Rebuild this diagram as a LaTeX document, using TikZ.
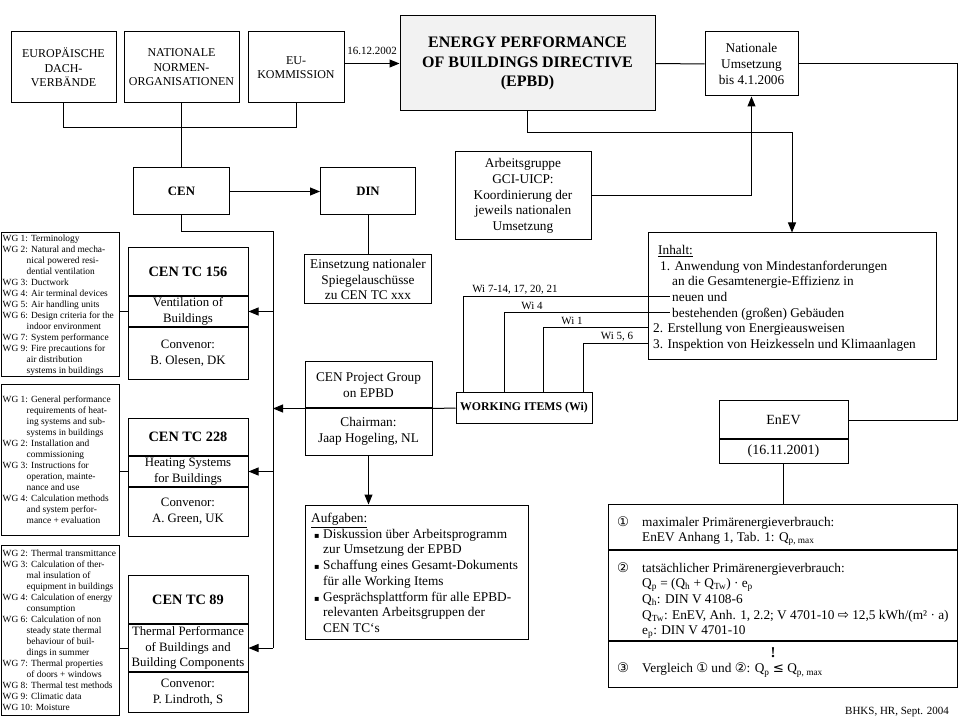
\documentclass[tikz,border=0pt]{standalone}
\usepackage{fontspec}
\setmainfont{Liberation Serif}
\newfontfamily\symfont{DejaVu Sans}
\usetikzlibrary{arrows.meta}
\definecolor{epbdfill}{RGB}{242,242,242}
\newcommand\myfn{\fontsize{12.8pt}{15.7pt}\selectfont}
\newcommand\myfnb{\fontsize{13.3pt}{15.7pt}\selectfont}
\newcommand\mycap{\fontsize{12pt}{14.5pt}\selectfont}
\newcommand\mywg{\fontsize{9.4pt}{11pt}\selectfont}
\newcommand\mylbl{\fontsize{11pt}{13pt}\selectfont}
\newcommand\myepbd{\fontsize{16pt}{19.5pt}\selectfont\bfseries}
\newcommand\mybold{\fontsize{12.8pt}{15pt}\selectfont\bfseries}
\newcommand\mytc{\fontsize{14.3pt}{16pt}\selectfont\bfseries}
\newcommand\mywi{\fontsize{11.8pt}{14pt}\selectfont\bfseries}
\newcommand\myenev{\fontsize{14pt}{16pt}\selectfont}
\newcommand\wgind{\hspace*{24pt}}
\newcommand\cd[1]{{\symfont #1}}
\newcommand\bul{\hspace*{3pt}\makebox[9pt][l]{\symfont\fontsize{8pt}{8pt}\selectfont ▪}}
\newcommand\bcont{\hspace*{12pt}}
\newcommand\sind{\hspace*{25pt}}
\begin{document}
\begin{tikzpicture}[x=1pt,y=-1pt,
  mybox/.style={draw, line width=1pt, inner sep=1pt, align=center, font=\myfnb},
  boxframe/.style={draw, line width=1pt, inner sep=0pt},
  txt/.style={inner sep=0pt, align=center, font=\myfn},
  ltxt/.style={inner sep=0pt, align=left, font=\myfnb},
  wgtxt/.style={inner sep=0pt, align=left, font=\mywg, anchor=west},
  lbl/.style={inner sep=0pt, font=\mylbl},
  ln/.style={line width=1pt},
  arr/.style={line width=1pt, -{Triangle[length=10pt,width=8pt]}},
  divider/.style={line width=2pt}]
\useasboundingbox (0,0) rectangle (959,719);

% top row
\node[mybox, font=\mycap, minimum width=105pt, minimum height=71pt] (europ) at (63.5,67.5) {EUROPÄISCHE\\DACH-\\VERBÄNDE};
\node[mybox, font=\mycap, minimum width=115pt, minimum height=71pt] (natnorm) at (181.5,67.5) {NATIONALE\\NORMEN-\\ORGANISATIONEN};
\node[mybox, font=\mycap, minimum width=96pt, minimum height=71pt] (eukom) at (296,67.5) {EU-\\KOMMISSION};
\node[mybox, font=\myepbd, fill=epbdfill, minimum width=255pt, minimum height=95pt] (epbd) at (527.5,63.5) {ENERGY PERFORMANCE\\OF BUILDINGS DIRECTIVE\\(EPBD)};
\node[mybox, minimum width=93pt, minimum height=64pt] (natums) at (751.5,64) {Nationale\\Umsetzung\\bis 4.1.2006};
\node[lbl] (datum) at (372,51) {16.12.2002};

% CEN / DIN
\node[mybox, font=\mybold, minimum width=96pt, minimum height=47pt] (cen) at (181.5,191.5) {CEN};
\node[mybox, font=\mybold, minimum width=95pt, minimum height=47pt] (din) at (368,191.5) {DIN};
\node[mybox, minimum width=136pt, minimum height=88pt] (arb) at (523,196) {Arbeitsgruppe\\GCI-UICP:\\Koordinierung der\\jeweils nationalen\\Umsetzung};
\node[mybox, minimum width=127pt, minimum height=49pt] (einsetz) at (368,279.5) {Einsetzung nationaler\\Spiegelauschüsse\\zu CEN TC xxx};

% Inhalt
\node[boxframe, minimum width=288pt, minimum height=127pt] (inhalt) at (792,296.5) {};
\node[ltxt, anchor=north west] (inhalttxt) at (650,245) {\hspace*{8pt}\underline{Inhalt:}\\ \hspace*{10pt}1. Anwendung von Mindestanforderungen\\ \hspace*{22pt}an die Gesamtenergie-Effizienz in\\ \hspace*{22pt}neuen und\\ \hspace*{22pt}bestehenden (großen) Gebäuden\\ \hspace*{3pt}2. Erstellung von Energieausweisen\\ \hspace*{3pt}3. Inspektion von Heizkesseln und Klimaanlagen};

% Working items
\node[mybox, font=\mywi, minimum width=136pt, minimum height=30pt] (wi) at (524,408) {WORKING ITEMS (Wi)};
\coordinate (w1) at (670,297);
\coordinate (w2) at (670,313);
\coordinate (w3) at (648,328);
\coordinate (w4) at (648,344);
\node[lbl] (l1) at (515,290) {Wi 7-14, 17, 20, 21};
\node[lbl] (l2) at (532,305.5) {Wi 4};
\node[lbl] (l3) at (572,321) {Wi 1};
\node[lbl] (l4) at (617,337) {Wi 5, 6};

% CEN project group
\node[boxframe, minimum width=127pt, minimum height=93pt] (cenpg) at (368.5,408.5) {};
\draw[divider] (305,408) -- (432,408);
\node[txt, font=\myfnb] (cenpga) at (368.5,385) {CEN Project Group\\on EPBD};
\node[txt, font=\myfnb] (cenpgb) at (368.5,431.5) {Chairman:\\Jaap Hogeling, NL};

% Aufgaben
\node[boxframe, minimum width=223pt, minimum height=134pt] (aufg) at (416.5,572) {};
\node[ltxt, anchor=north west] (aufgt) at (311,513) {\underline{Aufgaben:}\\ \bul Diskussion über Arbeitsprogramm\\ \bcont zur Umsetzung der EPBD\\ \bul Schaffung eines Gesamt-Dokuments\\ \bcont für alle Working Items\\ \bul Gesprächsplattform für alle EPBD-\\ \bcont relevanten Arbeitsgruppen der\\ \bcont CEN TC‘s};

% TC 156
\node[boxframe, minimum width=120pt, minimum height=132pt] (tc156) at (188,314) {};
\draw[divider] (128,296) -- (248,296);
\draw[divider] (128,327) -- (248,327);
\node[txt, font=\mytc] (tc156a) at (188,272) {CEN TC 156};
\node[txt] (tc156b) at (188,311.5) {Ventilation of\\Buildings};
\node[txt] (tc156c) at (188,353.5) {Convenor:\\B. Olesen, DK};

% TC 228
\node[boxframe, minimum width=120pt, minimum height=118pt] (tc228) at (188,477) {};
\draw[divider] (128,456) -- (248,456);
\draw[divider] (128,487) -- (248,487);
\node[txt, font=\mytc] (tc228a) at (188,437) {CEN TC 228};
\node[txt] (tc228b) at (188,471.5) {Heating Systems\\for Buildings};
\node[txt] (tc228c) at (188,511.5) {Convenor:\\A. Green, UK};

% TC 89
\node[boxframe, minimum width=120pt, minimum height=137pt] (tc89) at (188,643.5) {};
\draw[divider] (128,624) -- (248,624);
\draw[divider] (128,672) -- (248,672);
\node[txt, font=\mytc] (tc89a) at (188,599.5) {CEN TC 89};
\node[txt] (tc89b) at (188,648) {Thermal Performance\\of Buildings and\\Building Components};
\node[txt] (tc89c) at (188,692) {Convenor:\\P. Lindroth, S};

% WG boxes
\node[boxframe, minimum width=118pt, minimum height=144pt] (wg1) at (60,305) {};
\node[wgtxt] (wg1t) at ([xshift=2pt]wg1.west) {WG 1: Terminology\\
WG 2: Natural and mecha-\\
\wgind nical powered resi-\\
\wgind dential ventilation\\
WG 3: Ductwork\\
WG 4: Air terminal devices\\
WG 5: Air handling units\\
WG 6: Design criteria for the\\
\wgind indoor environment\\
WG 7: System performance\\
WG 9: Fire precautions for\\
\wgind air distribution\\
\wgind systems in buildings};

\node[boxframe, minimum width=118pt, minimum height=150pt] (wg2) at (60,460) {};
\node[wgtxt] (wg2t) at ([xshift=2pt]wg2.west) {WG 1: General performance\\
\wgind requirements of heat-\\
\wgind ing systems and sub-\\
\wgind systems in buildings\\
WG 2: Installation and\\
\wgind commissioning\\
WG 3: Instructions for\\
\wgind operation, mainte-\\
\wgind nance and use\\
WG 4: Calculation methods\\
\wgind and system perfor-\\
\wgind mance + evaluation};

\node[boxframe, minimum width=118pt, minimum height=170pt] (wg3) at (60,630) {};
\node[wgtxt] (wg3t) at ([xshift=2pt]wg3.west) {WG 2: Thermal transmittance\\
WG 3: Calculation of ther-\\
\wgind mal insulation of\\
\wgind equipment in buildings\\
WG 4: Calculation of energy\\
\wgind consumption\\
WG 6: Calculation of non\\
\wgind steady state thermal\\
\wgind behaviour of buil-\\
\wgind dings in summer\\
WG 7: Thermal properties\\
\wgind of doors + windows\\
WG 8: Thermal test methods\\
WG 9: Climatic data\\
WG 10: Moisture};

% EnEV
\node[boxframe, minimum width=129pt, minimum height=62pt] (enev) at (783.5,432) {};
\draw[divider] (719,439) -- (848,439);
\node[txt, font=\myenev] (eneva) at (783.5,420) {EnEV};
\node[txt, font=\myenev] (enevb) at (783.5,451) {(16.11.2001)};

% big box
\node[boxframe, minimum width=349pt, minimum height=183pt] (bigbox) at (782.5,595.5) {};
\draw[divider] (608,550) -- (957,550);
\draw[divider] (608,641) -- (957,641);
\node[ltxt, anchor=north west] (sec1) at (617,516) {\makebox[25pt][l]{\cd{①}}maximaler Primärenergieverbrauch:\\ \sind EnEV Anhang 1, Tab. 1: Q\textsubscript{p, max}};
\node[ltxt, anchor=north west] (sec2) at (617,562) {\makebox[25pt][l]{\cd{②}}tatsächlicher Primärenergieverbrauch:\\ \sind Q\textsubscript{p} = (Q\textsubscript{h} + Q\textsubscript{Tw}) · e\textsubscript{p}\\ \sind Q\textsubscript{h}: DIN V 4108-6\\ \sind Q\textsubscript{Tw}: EnEV, Anh. 1, 2.2; V 4701-10 \cd{⇨} 12,5 kWh/(m² · a)\\ \sind e\textsubscript{p}: DIN V 4701-10};
\node[inner sep=0pt, font=\fontsize{15pt}{17pt}\selectfont\bfseries] (excl) at (773,653) {!};
\node[ltxt, anchor=west] (sec3) at (617,670) {\makebox[25pt][l]{\cd{③}}Vergleich \cd{①} und \cd{②}: Q\textsubscript{p} \cd{≤} Q\textsubscript{p, max}};

\node[lbl] (bhks) at (897,712) {BHKS, HR, Sept. 2004};

% connectors
\coordinate (j1) at (0,128);
\draw[ln] (europ.south) -- (europ.south |- j1) -- (eukom.south |- j1) -- (eukom.south);
\draw[ln] (natnorm.south) -- (cen.north);
\draw[arr] (eukom.east |- epbd.west) -- (epbd.west);
\draw[arr] (cen.east) -- (din.west);
\coordinate (cl) at (273,232);
\draw[ln] (cen.south) |- (cl) -- (cl |- tc89b);
\draw[arr] (cl |- tc156b) -- (tc156b -| tc156.east);
\draw[arr] (cl |- tc228b) -- (tc228b -| tc228.east);
\draw[arr] (cl |- tc89b) -- (tc89b -| tc89.east);
\draw[arr] (cenpg.west) -- (cl |- cenpg.west);
\draw[ln] (wi.west) -- (cenpg.east);
\draw[ln] (din.south) -- (einsetz.north);
\draw[arr] (cenpg.south) -- (cenpg.south |- aufg.north);
\draw[ln] (wg1.east |- tc156b) -- (tc156.west |- tc156b);
\draw[ln] (wg2.east |- tc228b) -- (tc228.west |- tc228b);
\draw[ln] (wg3.east |- tc89b) -- (tc89.west |- tc89b);
\coordinate (j2) at (528,133);
\draw[arr] (epbd.south) -- (epbd.south |- j2) -- (inhalt.north |- j2) -- (inhalt.north);
\draw[ln] (epbd.east) -- (natums.west);
\draw[arr] (arb.east) -| (natums.south);
\coordinate (rc) at (957,64);
\draw[ln] (natums.east) -- (natums.east -| rc) -- (rc |- eneva) -- (eneva -| enev.east);
\draw[ln] (enev.south) -- (enev.south |- bigbox.north);
\draw[ln] ([xshift=8pt]wi.north west) |- (w1);
\draw[ln] ([xshift=49pt]wi.north west) |- (w2);
\draw[ln] ([xshift=88pt]wi.north west) |- (w3);
\draw[ln] ([xshift=128pt]wi.north west) |- (w4);
\end{tikzpicture}
\end{document}
